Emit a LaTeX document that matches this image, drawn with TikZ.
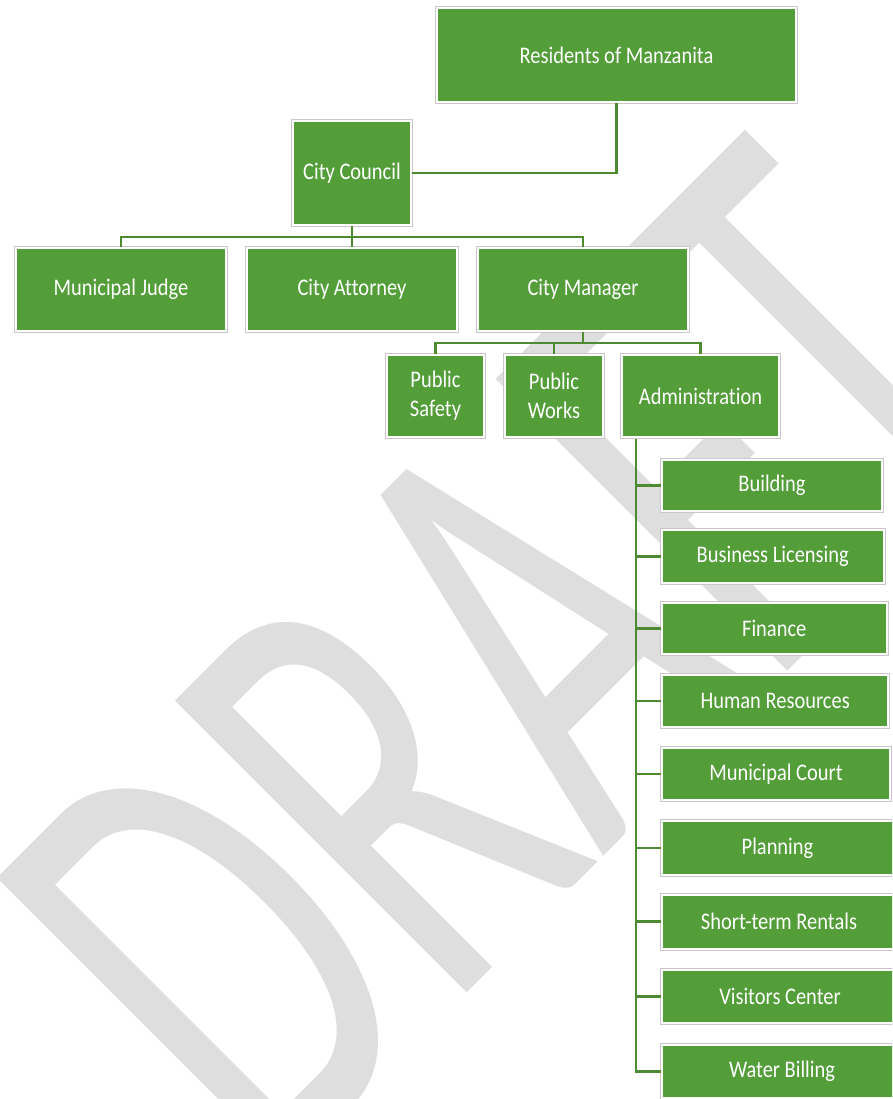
\documentclass[tikz,border=0pt]{standalone}
\usepackage{fontspec}
\usepackage{graphicx}
\setmainfont{Carlito}[FakeStretch=0.86, Ligatures=NoCommon]
\newfontfamily\wmfont{Carlito}
\definecolor{boxgreen}{RGB}{84,158,58}
\definecolor{boxedge}{RGB}{200,200,200}
\definecolor{linegreen}{RGB}{78,138,48}
\definecolor{wmgray}{RGB}{222,222,222}
\begin{document}
\begin{tikzpicture}[x=1pt,y=-1pt,
  orgbox/.style={rectangle, inner sep=0pt, fill=boxgreen, draw=white, line width=2pt,
    preaction={draw=boxedge, line width=4pt}, text=white, align=center,
    font=\fontsize{23.8}{29}\selectfont},
  subbox/.style={orgbox, anchor=west},
  conn/.style={draw=linegreen, line width=2.5pt}]
\useasboundingbox (0,0) rectangle (892,1099);
\clip (0,0) rectangle (892,1099);
\fill[white] (0,0) rectangle (892,1099);
% watermark
\node[anchor=base west, rotate=45, inner sep=0pt, text=wmgray] (wm) at (269.4,1190)
  {\resizebox{1087pt}{412pt}{\wmfont DRAFT}};
% nodes
\node[orgbox, minimum width=359pt, minimum height=94pt] (res) at (616.5,55) {Residents of Manzanita};
\node[orgbox, minimum width=118pt, minimum height=104pt] (council) at (352,173) {City Council};
\node[orgbox, minimum width=210pt, minimum height=83pt] (judge) at (121,289.5) {Municipal Judge};
\node[orgbox, minimum width=210pt, minimum height=83pt] (attorney) at (352,289.5) {City Attorney};
\node[orgbox, minimum width=210pt, minimum height=83pt] (manager) at (583,289.5) {City Manager};
\node[orgbox, minimum width=97pt, minimum height=82pt] (safety) at (435.5,396) {Public\\Safety};
\node[orgbox, minimum width=98pt, minimum height=82pt] (works) at (554,396) {Public\\Works};
\node[orgbox, minimum width=157pt, minimum height=82pt] (admin) at (700.5,396) {Administration};
\node[subbox, minimum width=220pt, minimum height=51.5pt] (building) at (661,485.3) {Building};
\node[subbox, minimum width=221.5pt, minimum height=52.7pt] (licensing) at (661,556.7) {Business Licensing};
\node[subbox, minimum width=224.5pt, minimum height=51pt] (finance) at (661,628.7) {Finance};
\node[subbox, minimum width=226.3pt, minimum height=52.6pt] (hr) at (661,701) {Human Resources};
\node[subbox, minimum width=228pt, minimum height=52.3pt] (court) at (661,774.2) {Municipal Court};
\node[subbox, minimum width=231pt, minimum height=53.4pt] (planning) at (661,848) {Planning};
\node[subbox, minimum width=234pt, minimum height=54pt] (rentals) at (661,921.7) {Short-term Rentals};
\node[subbox, minimum width=236pt, minimum height=52.7pt] (visitors) at (661,996.7) {Visitors Center};
\node[subbox, minimum width=240pt, minimum height=53pt] (water) at (661,1071.6) {Water Billing};
% connector anchors
\coordinate (bus1) at (352,237);
\coordinate (bus2) at (583,343);
\coordinate (spine) at (636,439);
% connectors
\draw[conn] (res.south) |- (council.east);
\draw[conn] (council.south) -- (attorney.north);
\draw[conn] (judge.north) |- (bus1) -| (manager.north);
\draw[conn] (manager.south) -- (bus2);
\draw[conn] (safety.north) |- (bus2) -| (admin.north);
\draw[conn] (works.north) -- (works.north |- bus2);
\foreach \c in {building,licensing,finance,hr,court,planning,rentals,visitors,water}
  \draw[conn] (spine) |- (\c.west);
\end{tikzpicture}
\end{document}
